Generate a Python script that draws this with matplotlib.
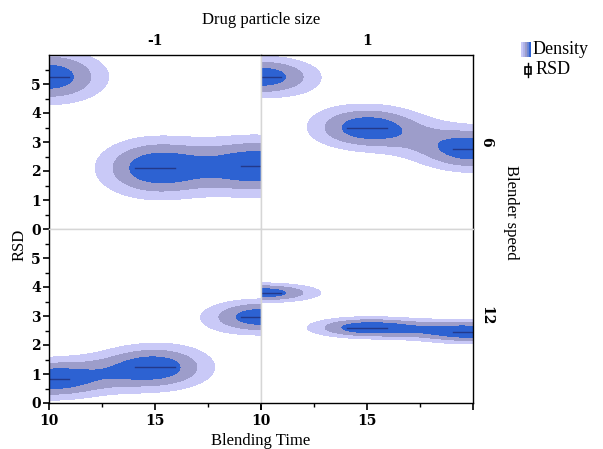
import numpy as np
import matplotlib
matplotlib.use('Agg')
import matplotlib.pyplot as plt
from matplotlib.colors import ListedColormap
from matplotlib.patches import Rectangle
from matplotlib.lines import Line2D

plt.rc('font', family='Liberation Serif')

# group medians / spreads, one list per facet (rows: blender speed 6, 12; cols: particle size -1, 1)
blend_time = [10, 15, 20]

rsd_6_m1 = [5.25, 2.10, 2.17]
sd_6_m1 = [0.70, 0.78, 0.76]
rsd_6_p1 = [5.25, 3.50, 2.75]
sd_6_p1 = [0.52, 0.58, 0.58]
rsd_12_m1 = [0.82, 1.23, 2.97]
sd_12_m1 = [0.52, 0.60, 0.45]
rsd_12_p1 = [3.80, 2.60, 2.45]
sd_12_p1 = [0.25, 0.27, 0.30]

col_labels = ['-1', '1']
row_labels = ['6', '12']

light = '#c9c9f7'
mid = '#9d9dca'
blue = '#2d62d2'
line_c = '#23398a'

W, H = 603, 449
fig = plt.figure(figsize=(W / 100, H / 100), dpi=100)

x0, x1, x2 = 49, 261, 473
y0, y1, y2 = 55, 229, 403


def add_ax(l, t, r, b):
    return fig.add_axes([l / W, 1 - b / H, (r - l) / W, (b - t) / H])


panels = [
    (add_ax(x0, y0, x1, y1), rsd_6_m1, sd_6_m1, 0, 0),
    (add_ax(x1, y0, x2, y1), rsd_6_p1, sd_6_p1, 0, 1),
    (add_ax(x0, y1, x1, y2), rsd_12_m1, sd_12_m1, 1, 0),
    (add_ax(x1, y1, x2, y2), rsd_12_p1, sd_12_p1, 1, 1),
]

sx = 2.05
gx = np.linspace(10, 20, 400)
gy = np.linspace(0, 6, 300)
GX, GY = np.meshgrid(gx, gy)

for ax, rsd, sd, r, c in panels:
    dens = np.zeros_like(GX)
    for t, m, s in zip(blend_time, rsd, sd):
        dens += np.exp(-0.5 * ((GX - t) / sx) ** 2 - 0.5 * ((GY - m) / s) ** 2)
    ax.contourf(GX, GY, dens, levels=[0.39, 0.63, 0.855, 10], colors=[light, mid, blue])
    for t, m in zip(blend_time, rsd):
        ax.plot([t - 0.95, t + 0.95], [m, m], color=line_c, lw=1)
    ax.set_xlim(10, 20)
    ax.set_ylim(0, 6)
    for s in ax.spines.values():
        s.set_color('#d6d6d6')
        s.set_linewidth(1)
    if r == 0:
        ax.spines['top'].set_color('black')
    if r == 1:
        ax.spines['bottom'].set_color('black')
    if c == 0:
        ax.spines['left'].set_color('black')
    if c == 1:
        ax.spines['right'].set_color('black')
    ax.set_xticks([10, 15, 20])
    ax.set_xticks([12.5, 17.5], minor=True)
    ax.set_yticks(range(0, 6))
    ax.set_yticks(np.arange(0.5, 6, 0.5), minor=True)
    if r == 1:
        ax.set_xticklabels(['10', '15', ''], fontsize=10, fontweight='bold', family='DejaVu Serif')
        ax.tick_params(axis='x', which='major', length=5, width=1.2, pad=3)
        ax.tick_params(axis='x', which='minor', length=3, width=1)
    else:
        ax.tick_params(axis='x', which='both', bottom=False, labelbottom=False)
    if c == 0:
        ax.set_yticklabels([str(v) for v in range(0, 6)], fontsize=10, fontweight='bold', family='DejaVu Serif')
        ax.tick_params(axis='y', which='major', length=4, width=1.2, pad=2)
        ax.tick_params(axis='y', which='minor', length=3, width=1)
    else:
        ax.tick_params(axis='y', which='both', left=False, labelleft=False)
    if r == 0:
        ax.text(0.5, 1.04, col_labels[c], transform=ax.transAxes, ha='center', va='bottom',
                fontsize=10, fontweight='bold', family='DejaVu Serif')
    if c == 1:
        ax.text(1.03, 0.5, row_labels[r], transform=ax.transAxes, ha='left', va='center',
                rotation=-90, fontsize=10, fontweight='bold', family='DejaVu Serif')

fig.text((x0 + x2) / 2 / W, 1 - 20 / H, 'Drug particle size', ha='center', va='center', fontsize=12)
fig.text((x0 + x2) / 2 / W, 1 - 441 / H, 'Blending Time', ha='center', va='center', fontsize=12)
fig.text(20 / W, 1 - 245 / H, 'RSD', ha='center', va='center', rotation=90, fontsize=12)
fig.text(511 / W, 1 - 212 / H, 'Blender speed', ha='center', va='center', rotation=-90, fontsize=12)

# legend
lax = fig.add_axes([521 / W, 1 - 57 / H, 10 / W, 15 / H])
lax.imshow(np.linspace(0, 1, 20)[None, :], aspect='auto',
           cmap=ListedColormap([light, '#b0b4ea', mid, '#6f88d6', blue]))
lax.axis('off')
fig.text(533 / W, 1 - 50 / H, 'Density', ha='left', va='center', fontsize=13)
fig.add_artist(Line2D([528 / W, 528 / W], [1 - 63 / H, 1 - 77 / H], color='black', lw=1))
fig.add_artist(Rectangle((525 / W, 1 - 74 / H), 6 / W, 7 / H, facecolor='white', edgecolor='black', lw=1.2))
fig.text(536 / W, 1 - 70 / H, 'RSD', ha='left', va='center', fontsize=13)

fig.savefig('out.png', dpi=100)
